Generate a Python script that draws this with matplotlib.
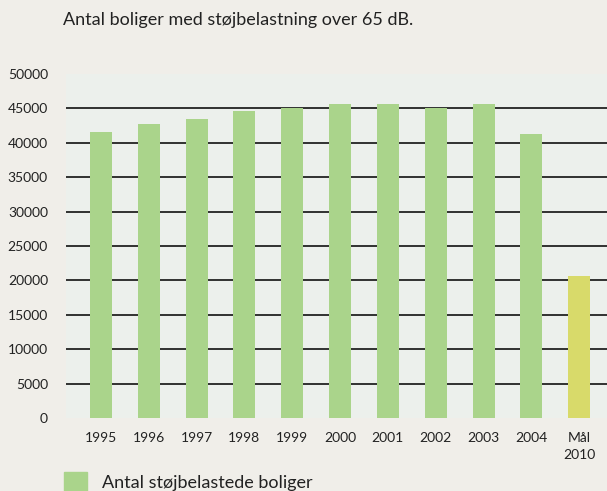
import matplotlib.pyplot as plt
from matplotlib.patches import Rectangle

# Number of dwellings exposed to road noise above 65 dB
years = ["1995", "1996", "1997", "1998", "1999", "2000",
         "2001", "2002", "2003", "2004", "Mål\n2010"]
dwellings = [41500, 42800, 43500, 44600, 45100, 45600,
             45600, 45000, 45600, 41300, 20700]
yticks = list(range(0, 50001, 5000))

GREEN = "#aad48b"
YELLOW = "#d8da6a"

plt.rcParams["font.family"] = ["Lato", "DejaVu Sans"]

fig = plt.figure(figsize=(6.07, 4.91), dpi=100)
fig.patch.set_facecolor("#f0eee9")
ax = fig.add_axes([0.1087, 0.1487, 0.8913, 0.7006])
ax.set_facecolor("#ecf0ec")

colors = [GREEN] * (len(years) - 1) + [YELLOW]
x = range(len(years))
ax.bar(x, dwellings, width=0.46, color=colors, zorder=2)

# horizontal rules at every step except the bottom and top
for y in yticks[1:-1]:
    ax.axhline(y, color="#111111", lw=1.2, zorder=1)

ax.set_xlim(-0.73, 10.58)
ax.set_ylim(0, 50000)
ax.set_yticks(yticks)
ax.set_yticklabels([str(v) for v in yticks], fontsize=10, color="#222222")
ax.set_xticks(list(x))
ax.set_xticklabels(years, fontsize=10, color="#222222", linespacing=1.55)
ax.tick_params(axis="y", length=0, pad=13)
ax.tick_params(axis="x", length=0, pad=10)
for s in ax.spines.values():
    s.set_visible(False)

fig.text(63 / 607, 1 - 20 / 491, "Antal boliger med støjbelastning over 65 dB.",
         fontsize=13, color="#222222", va="center", ha="left")

# legend swatch, clipped by the bottom edge
fig.patches.append(Rectangle((64 / 607, 0), 23 / 607, 19 / 491,
                             transform=fig.transFigure, color=GREEN))
fig.text(102 / 607, 1 - 483 / 491, "Antal støjbelastede boliger",
         fontsize=13, color="#222222", va="center", ha="left")

fig.savefig("out.png", dpi=100, facecolor=fig.get_facecolor())
